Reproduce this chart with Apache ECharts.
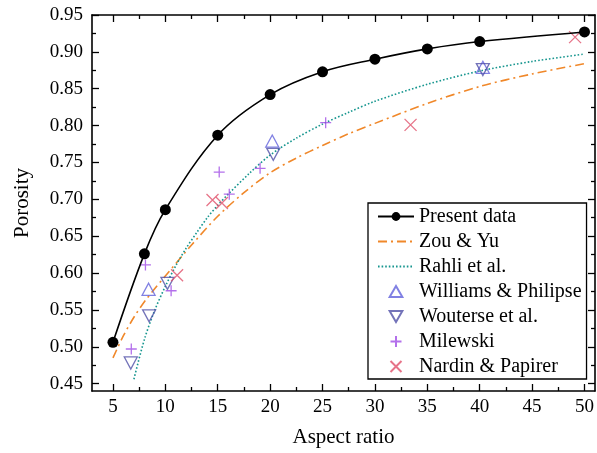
<!DOCTYPE html>
<html>
<head>
<meta charset="utf-8">
<script src="https://cdn.jsdelivr.net/npm/echarts@6/dist/echarts.min.js"></script>
<style>
html,body{margin:0;padding:0;background:#fff;}
#chart{width:597px;height:453px;}
</style>
</head>
<body>
<div id="chart"></div>
<script>
// ---- data ----
const xTicks = [5, 10, 15, 20, 25, 30, 35, 40, 45, 50];
const xMinorTicks = [7.5, 12.5, 17.5, 22.5, 27.5, 32.5, 37.5, 42.5, 47.5];
const yTicks = [0.45, 0.50, 0.55, 0.60, 0.65, 0.70, 0.75, 0.80, 0.85, 0.90, 0.95];
const yMinorTicks = [0.475, 0.525, 0.575, 0.625, 0.675, 0.725, 0.775, 0.825, 0.875, 0.925];

const presentX = [5, 8, 10, 15, 20, 25, 30, 35, 40, 50];
const presentY = [0.506, 0.626, 0.686, 0.787, 0.842, 0.873, 0.890, 0.904, 0.914, 0.927];

const zouX = [5, 6, 7, 8, 9, 10, 12.5, 15, 17.5, 20, 22.5, 25, 27.5, 30, 35, 40, 45, 50];
const zouY = [0.485, 0.515, 0.540, 0.561, 0.579, 0.596, 0.638, 0.677, 0.709, 0.736, 0.756, 0.773, 0.789, 0.803, 0.830, 0.853, 0.870, 0.884];

const rahliX = [7, 8, 9, 10, 11, 12, 13, 14, 15, 16, 18, 20, 22.5, 25, 27.5, 30, 35, 40, 45, 50];
const rahliY = [0.456, 0.510, 0.550, 0.582, 0.610, 0.634, 0.655, 0.675, 0.692, 0.707, 0.735, 0.760, 0.783, 0.802, 0.818, 0.833, 0.856, 0.874, 0.887, 0.897];

const williamsX = [8.4, 20.2, 40.3];
const williamsY = [0.578, 0.779, 0.879];

const wouterseX = [6.7, 8.45, 10.2, 20.3, 40.3];
const wouterseY = [0.478, 0.542, 0.586, 0.761, 0.876];

const milewskiX = [6.75, 8.1, 10.55, 15.14, 16.1, 19.04, 25.3];
const milewskiY = [0.497, 0.611, 0.576, 0.737, 0.707, 0.742, 0.804];

const nardinX = [11.12, 14.5, 15.4, 33.4, 49.1];
const nardinY = [0.597, 0.699, 0.695, 0.801, 0.920];

const pairs = (xs, ys) => xs.map((x, i) => [x, ys[i]]);

const FONT = 'Liberation Serif';
const X_MIN = 3, X_MAX = 51, Y_MIN = 0.44, Y_MAX = 0.95;

const TRI_UP = 'path://M5,0 L10,8.66 L0,8.66 Z';
const TRI_DOWN = 'path://M0,0 L10,0 L5,8.66 Z';
const PLUS = 'path://M5,0 L5,10 M0,5 L10,5';
const CROSS = 'path://M0,0 L10,10 M10,0 L0,10';

function xAxisDef(pos, major, showLabel, name) {
  return {
    type: 'value', position: pos, min: X_MIN, max: X_MAX,
    name: name || '', nameLocation: 'middle', nameGap: 36,
    nameTextStyle: { fontFamily: FONT, fontSize: 21, color: '#000' },
    axisLine: { show: major, onZero: false, lineStyle: { color: '#000', width: 1.6 } },
    splitLine: { show: false },
    axisTick: { show: true, inside: true, length: major ? 7 : 4,
      customValues: major ? xTicks : xMinorTicks,
      lineStyle: { color: '#000', width: 1.3 } },
    axisLabel: { show: showLabel, customValues: xTicks, margin: 7,
      fontFamily: FONT, fontSize: 19, color: '#000' }
  };
}
function yAxisDef(pos, major, showLabel, name) {
  return {
    type: 'value', position: pos, min: Y_MIN, max: Y_MAX,
    name: name || '', nameLocation: 'middle', nameGap: 59,
    nameTextStyle: { fontFamily: FONT, fontSize: 21, color: '#000' },
    axisLine: { show: major, onZero: false, lineStyle: { color: '#000', width: 1.6 } },
    splitLine: { show: false },
    axisTick: { show: true, inside: true, length: major ? 7 : 4,
      customValues: major ? yTicks : yMinorTicks,
      lineStyle: { color: '#000', width: 1.3 } },
    axisLabel: { show: showLabel, customValues: yTicks, margin: 9,
      fontFamily: FONT, fontSize: 19, color: '#000',
      formatter: v => v.toFixed(2) }
  };
}

const chart = echarts.init(document.getElementById('chart'), null, { renderer: 'canvas' });

const option = {
  animation: false,
  backgroundColor: '#fff',
  grid: { left: 92, top: 15, right: 0, bottom: 61, containLabel: false },
  xAxis: [
    xAxisDef('bottom', true, true, 'Aspect ratio'),
    xAxisDef('bottom', false, false),
    xAxisDef('top', true, false),
    xAxisDef('top', false, false)
  ],
  yAxis: [
    yAxisDef('left', true, true, 'Porosity'),
    yAxisDef('left', false, false),
    yAxisDef('right', true, false),
    yAxisDef('right', false, false)
  ],
  legend: {
    orient: 'vertical', left: 368, top: 203,
    itemWidth: 36, itemHeight: 11, itemGap: 0,
    padding: [1, 5, 0, 9],
    borderColor: '#000', borderWidth: 1.3,
    backgroundColor: '#fff',
    symbolKeepAspect: true,
    textStyle: { fontFamily: FONT, fontSize: 20, color: '#000', lineHeight: 25 },
    data: [
      'Present data',
      { name: 'Zou & Yu', itemStyle: { opacity: 0 } },
      { name: 'Rahli et al.', itemStyle: { opacity: 0 } },
      'Williams & Philipse', 'Wouterse et al.', 'Milewski', 'Nardin & Papirer'
    ]
  },
  series: [
    {
      name: 'Zou & Yu', type: 'line', xAxisIndex: 0, yAxisIndex: 0,
      data: pairs(zouX, zouY), smooth: 0.3, showSymbol: false, symbol: 'none',
      lineStyle: { color: '#f0882a', width: 1.6, type: [9, 4, 2, 4] },
      itemStyle: { color: '#f0882a' }, z: 2
    },
    {
      name: 'Rahli et al.', type: 'line', xAxisIndex: 0, yAxisIndex: 0,
      data: pairs(rahliX, rahliY), smooth: 0.3, showSymbol: false, symbol: 'none',
      lineStyle: { color: '#17968f', width: 1.6, type: [1.6, 2] },
      itemStyle: { color: '#17968f' }, z: 2
    },
    {
      name: 'Williams & Philipse', type: 'scatter', xAxisIndex: 0, yAxisIndex: 0,
      data: pairs(williamsX, williamsY), symbol: TRI_UP, symbolSize: [13, 12],
      itemStyle: { color: 'rgba(255,255,255,0)', borderColor: '#6262dc', borderWidth: 1.3 }, z: 3
    },
    {
      name: 'Wouterse et al.', type: 'scatter', xAxisIndex: 0, yAxisIndex: 0,
      data: pairs(wouterseX, wouterseY), symbol: TRI_DOWN, symbolSize: [13, 12],
      itemStyle: { color: 'rgba(255,255,255,0)', borderColor: '#5050a8', borderWidth: 1.3 }, z: 3
    },
    {
      name: 'Milewski', type: 'scatter', xAxisIndex: 0, yAxisIndex: 0,
      data: pairs(milewskiX, milewskiY), symbol: PLUS, symbolSize: 11,
      itemStyle: { color: 'rgba(255,255,255,0)', borderColor: '#a04ce6', borderWidth: 1.3 }, z: 3
    },
    {
      name: 'Nardin & Papirer', type: 'scatter', xAxisIndex: 0, yAxisIndex: 0,
      data: pairs(nardinX, nardinY), symbol: CROSS, symbolSize: 12,
      itemStyle: { color: 'rgba(255,255,255,0)', borderColor: '#e0506a', borderWidth: 1.3 }, z: 3
    },
    {
      name: 'Present data', type: 'line', xAxisIndex: 0, yAxisIndex: 0,
      data: pairs(presentX, presentY), smooth: 0.35,
      symbol: 'circle', symbolSize: 11, showSymbol: true,
      lineStyle: { color: '#000', width: 1.6 },
      itemStyle: { color: '#000' }, z: 4
    }
  ]
};
chart.setOption(option);
</script>
</body>
</html>
